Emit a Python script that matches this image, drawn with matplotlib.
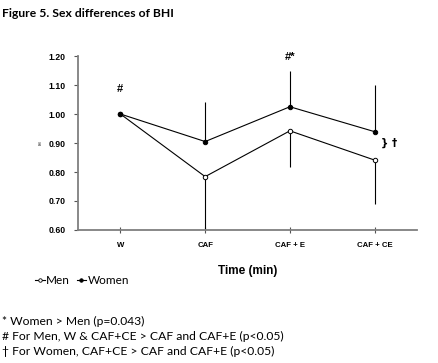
import matplotlib
matplotlib.use("Agg")
import matplotlib.pyplot as plt
from matplotlib.lines import Line2D
import numpy as np

categories = ["W", "CAF", "CAF + E", "CAF + CE"]
men = [1.00, 0.784, 0.942, 0.841]
women = [1.00, 0.905, 1.025, 0.939]
men_err_lower = [0.0, 0.184, 0.124, 0.152]
women_err_upper = [0.0, 0.135, 0.123, 0.161]
yticks = [0.60, 0.70, 0.80, 0.90, 1.00, 1.10, 1.20]

fig = plt.figure(figsize=(4.39, 3.63), dpi=100)
ax = fig.add_axes([0.1777, 0.3664, 0.7723, 0.4793])
x = np.arange(1, len(categories) + 1)

ax.errorbar(x, men, yerr=[men_err_lower, [0] * 4], fmt='none', ecolor='black', elinewidth=0.8, capsize=0)
ax.errorbar(x, women, yerr=[[0] * 4, women_err_upper], fmt='none', ecolor='black', elinewidth=0.8, capsize=0)
ax.plot(x, men, '-', color='black', lw=0.8, marker='o', ms=3.2, mfc='white', mec='black', mew=0.7, zorder=3)
ax.plot(x, women, '-', color='black', lw=0.8, marker='o', ms=3.2, mfc='black', mec='black', mew=0.7, zorder=3)

ax.set_xlim(0.5, 4.5)
ax.set_ylim(0.6, 1.2)
ax.set_xticks(x)
ax.set_xticklabels(categories, fontsize=5.6, fontweight='bold', family='Liberation Sans')
ax.set_yticks(yticks)
ax.set_yticklabels([f"{v:.2f}" for v in yticks], fontsize=6.2, fontweight='bold', family='Liberation Sans')
for s in ['top', 'right']:
    ax.spines[s].set_visible(False)
for s in ['left', 'bottom']:
    ax.spines[s].set_color('#7f7f7f')
    ax.spines[s].set_linewidth(1.3)
ax.tick_params(axis='both', length=3, width=0.8, color='#555555', pad=6)
ax.tick_params(axis='x', direction='inout', length=4, pad=7)

ax.set_xlabel("Time (min)", fontsize=8.5, fontweight='bold', family='Liberation Sans', labelpad=11)
ax.text(0.06, 0.9, "BHI", rotation=90, fontsize=2, ha='center', va='center', transform=ax.transData, clip_on=False)

ax.text(1, 1.086, "#", fontsize=8, fontweight='bold', ha='center', va='center', family='Liberation Sans')
ax.text(3, 1.197, "#*", fontsize=8, fontweight='bold', ha='center', va='center', family='Liberation Sans')
ax.text(4.07, 0.9, "} \u2020", fontsize=7.5, fontweight='bold', ha='left', va='center', family='DejaVu Sans', clip_on=False)

fig.text(0.005, 0.962, "Figure 5. Sex differences of BHI", fontsize=8.7, fontweight='bold', family='Lato', va='center')

# legend
handles = [Line2D([], [], color='black', lw=0.8, marker='o', ms=2.5, mfc='white', mec='black', mew=0.6),
           Line2D([], [], color='black', lw=0.8, marker='o', ms=2.5, mfc='black', mec='black', mew=0.6)]
fig.legend(handles, ["Men", "Women"], loc='center left', bbox_to_anchor=(0.08, 0.227), ncol=2,
           frameon=False, handlelength=0.8, handletextpad=0.1, columnspacing=0.6,
           prop={'family': 'Lato', 'size': 8.5}, borderaxespad=0, borderpad=0)

foot = ["* Women > Men (p=0.043)",
        "# For Men, W & CAF+CE > CAF and CAF+E (p<0.05)",
        "\u2020 For Women, CAF+CE > CAF and CAF+E (p<0.05)"]
ys = [321, 336, 351]
for t, yy in zip(foot, ys):
    fig.text(0.004, 1 - yy / 363, t, fontsize=8.7, family=['Lato', 'DejaVu Sans'], va='center')

fig.savefig("out.png", dpi=100)
